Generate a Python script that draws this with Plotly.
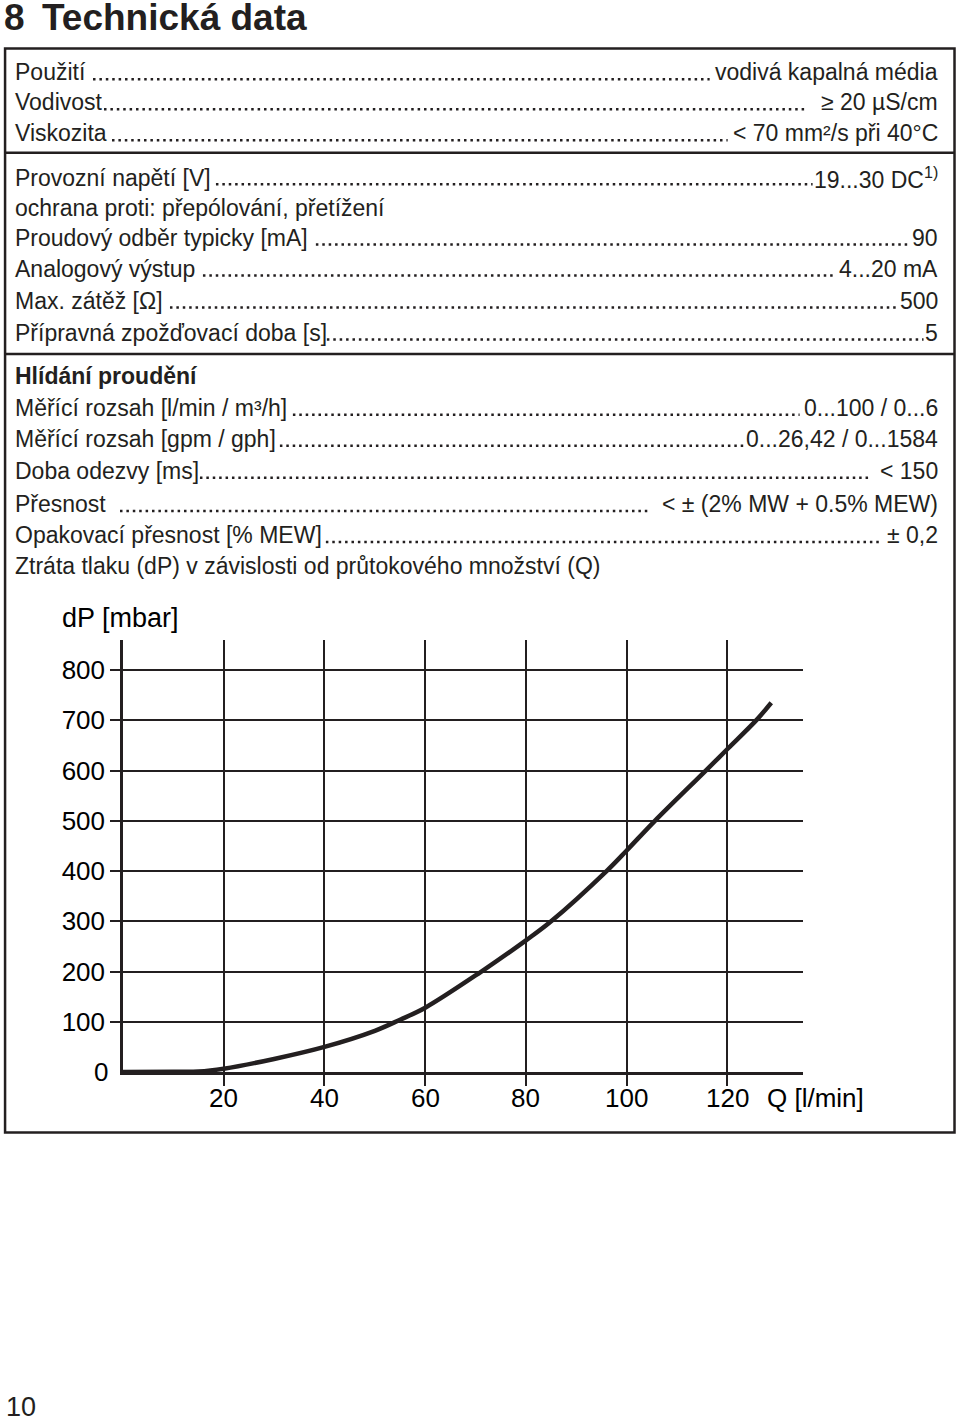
import plotly.graph_objects as go

# ---------------- data ----------------
flow_q = [0, 10, 15, 20, 30, 40, 50, 55, 60, 71, 80, 85, 96, 100, 105.6, 115.7, 120, 125.7, 128.7]
dp_mbar = [0, 0.5, 1, 6.6, 26, 50, 82, 104, 128, 199, 262, 300, 400, 441, 500, 600, 643, 700, 735]
x_ticks = [20, 40, 60, 80, 100, 120]
y_ticks = [100, 200, 300, 400, 500, 600, 700, 800]

labels = [
    "Použití", "Vodivost", "Viskozita",
    "Provozní napětí [V]", "ochrana proti: přepólování, přetížení",
    "Proudový odběr typicky [mA]", "Analogový výstup", "Max. zátěž [Ω]",
    "Přípravná zpožďovací doba [s]",
    "<b>Hlídání proudění</b>",
    "Měřící rozsah [l/min / m³/h]", "Měřící rozsah [gpm / gph]",
    "Doba odezvy [ms]", "Přesnost", "Opakovací přesnost [% MEW]",
    "Ztráta tlaku (dP) v závislosti od průtokového množství (Q)",
]
values = [
    "vodivá kapalná média", "≥ 20 µS/cm", "< 70 mm²/s při 40°C",
    "19...30 DC<sup>1)</sup>", "",
    "90", "4...20 mA", "500", "5",
    "",
    "0...100 / 0...6", "0...26,42 / 0...1584", "< 150",
    "< ± (2% MW + 0.5% MEW)", "± 0,2", "",
]

# ---------------- layout geometry (pixels) ----------------
W, H = 960, 1423
X0, XPX = 123.0, 5.04        # pixel of Q=0, px per l/min
Y0, YPX = 1071.7, 0.5015     # pixel of dP=0, px per mbar
XMAX, YMAX = 135, 860
ML = X0
MR = W - (X0 + XMAX * XPX)
MB = H - Y0
MT = Y0 - YMAX * YPX
PW = W - ML - MR
PH = H - MT - MB

def px(x):
    return (x - ML) / PW

def py(y):
    return (H - MB - y) / PH

baselines = [82, 112, 143, 187, 217, 247, 278, 310, 342, 385, 417, 448, 480, 513, 544, 575]
leaders = [(93, 710), (104, 808), (112, 728), (216, 813), None, (316, 909), (203, 835),
           (170, 898), (327, 924), None, (293, 800), (280, 745), (200, 870), (120, 648),
           (326, 882), None]

INK = "#231f20"
FONT = "Liberation Sans, Arial, Helvetica, sans-serif"
FS = 23

fig = go.Figure()
fig.add_trace(go.Scatter(
    x=flow_q, y=dp_mbar, mode="lines",
    line=dict(color=INK, width=4.5, shape="spline", smoothing=1.0),
    hoverinfo="skip", showlegend=False,
))

annotations = []
shapes = []

# title
annotations.append(dict(x=px(3), y=py(18.5), xref="paper", yref="paper", text="<b>8</b>",
                        showarrow=False, xanchor="left", yanchor="middle", borderpad=0,
                        font=dict(family=FONT, size=37, color=INK)))
annotations.append(dict(x=px(41), y=py(18.5), xref="paper", yref="paper", text="<b>Technická data</b>",
                        showarrow=False, xanchor="left", yanchor="middle", borderpad=0,
                        font=dict(family=FONT, size=37, color=INK)))

for lab, val, bl, ld in zip(labels, values, baselines, leaders):
    yc = bl - 0.36 * FS
    annotations.append(dict(x=px(14), y=py(yc), xref="paper", yref="paper", text=lab,
                            showarrow=False, xanchor="left", yanchor="middle", borderpad=0,
                            font=dict(family=FONT, size=FS, color=INK)))
    if val:
        annotations.append(dict(x=px(939), y=py(yc), xref="paper", yref="paper", text=val,
                                showarrow=False, xanchor="right", yanchor="middle", borderpad=0,
                                font=dict(family=FONT, size=FS, color=INK)))
    if ld:
        shapes.append(dict(type="line", xref="paper", yref="paper",
                           x0=px(ld[0]), x1=px(ld[1]), y0=py(bl - 1.5), y1=py(bl - 1.5),
                           line=dict(color=INK, width=2.5, dash="2.5px,3.9px")))

# box and separators
shapes.append(dict(type="rect", xref="paper", yref="paper", x0=px(5), x1=px(955),
                   y0=py(50), y1=py(1132), line=dict(color=INK, width=2.5)))
for sy in [154, 355]:
    shapes.append(dict(type="line", xref="paper", yref="paper", x0=px(5), x1=px(955),
                       y0=py(sy), y1=py(sy), line=dict(color=INK, width=2.5)))

# x tick labels (placed on the data axis)
for xv in x_ticks:
    annotations.append(dict(x=xv, y=py(1098), xref="x", yref="paper", text=str(xv),
                            showarrow=False, xanchor="center", yanchor="middle",
                            font=dict(family=FONT, size=26, color="#000")))

# axis titles and zero label
annotations.append(dict(x=px(60), y=py(618), xref="paper", yref="paper", text="dP [mbar]",
                        showarrow=False, xanchor="left", yanchor="middle",
                        font=dict(family=FONT, size=27, color="#000")))
annotations.append(dict(x=px(765), y=py(1098), xref="paper", yref="paper", text="Q [l/min]",
                        showarrow=False, xanchor="left", yanchor="middle",
                        font=dict(family=FONT, size=26, color="#000")))
annotations.append(dict(x=px(110), y=py(1072), xref="paper", yref="paper", text="0",
                        showarrow=False, xanchor="right", yanchor="middle",
                        font=dict(family=FONT, size=26, color="#000")))
# page number
annotations.append(dict(x=px(4), y=py(1406), xref="paper", yref="paper", text="10",
                        showarrow=False, xanchor="left", yanchor="middle",
                        font=dict(family=FONT, size=27, color=INK)))

fig.update_layout(
    width=W, height=H,
    margin=dict(l=ML, r=MR, t=MT, b=MB, autoexpand=False),
    paper_bgcolor="white", plot_bgcolor="white",
    showlegend=False,
    annotations=annotations, shapes=shapes,
    xaxis=dict(range=[0, XMAX], tickvals=x_ticks, ticks="outside", ticklen=11, tickwidth=2,
               tickcolor=INK, showgrid=True, gridcolor=INK, gridwidth=2,
               showticklabels=False,
               showline=True, linecolor=INK, linewidth=2.5, zeroline=False, fixedrange=True),
    yaxis=dict(range=[0, YMAX], tickvals=y_ticks, ticks="outside", ticklen=10, tickwidth=2,
               tickcolor=INK, showgrid=True, gridcolor=INK, gridwidth=2,
               showline=True, linecolor=INK, linewidth=2.5, zeroline=False,
               tickfont=dict(family=FONT, size=26, color="#000"), fixedrange=True),
)

fig.write_html("out.html")
